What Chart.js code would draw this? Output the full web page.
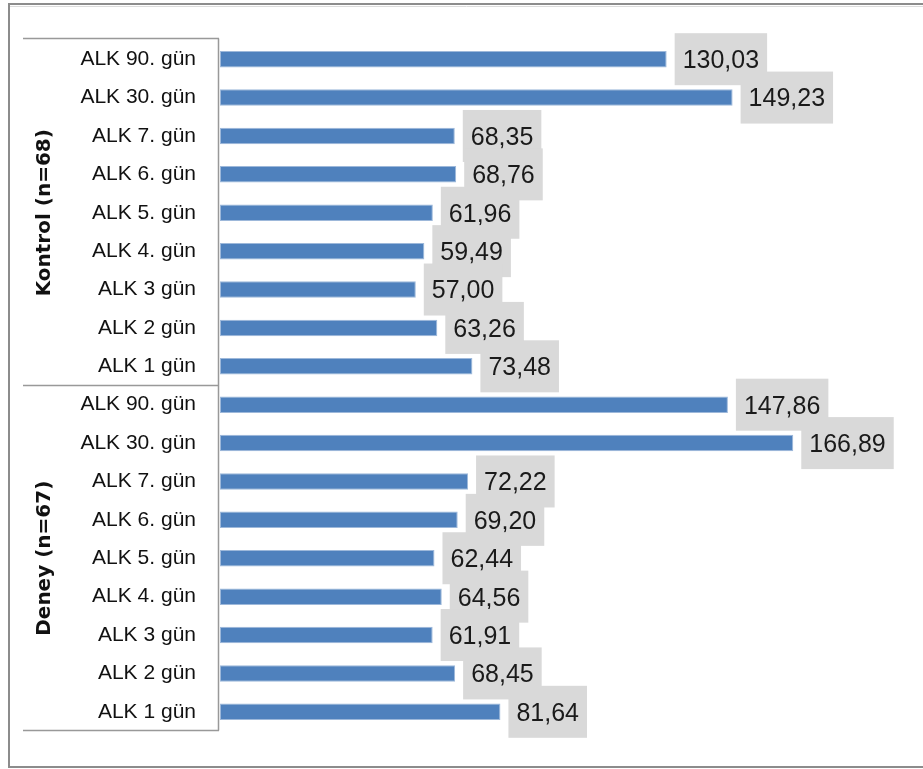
<!DOCTYPE html>
<html>
<head>
<meta charset="utf-8">
<script src="https://cdn.jsdelivr.net/npm/chart.js@4.4.1/dist/chart.umd.min.js"></script>
<style>
  body{margin:0;background:#fff;}
  #wrap{width:923px;height:769px;}
</style>
</head>
<body>
<div id="wrap"><canvas id="alk" width="923" height="769"></canvas></div>
<script>
// categories (top to bottom)
var days = ['ALK 90. gün','ALK 30. gün','ALK 7. gün','ALK 6. gün','ALK 5. gün','ALK 4. gün','ALK 3 gün','ALK 2 gün','ALK 1 gün'];
var groups = ['Kontrol (n=68)','Deney (n=67)'];
var kontrol = [130.03,149.23,68.35,68.76,61.96,59.49,57.00,63.26,73.48];
var deney = [147.86,166.89,72.22,69.20,62.44,64.56,61.91,68.45,81.64];

var labels = days.concat(days);
var values = kontrol.concat(deney);

// frame + group label box
var frame = {
  id:'frame',
  beforeDraw:function(chart){
    var c = chart.ctx, a = chart.chartArea;
    c.save();
    c.strokeStyle = '#8c8c8c';
    c.lineWidth = 2;
    c.strokeRect(9,4,940,763);
    c.strokeStyle = '#dcdcdc';
    c.lineWidth = 1;
    c.beginPath();
    c.moveTo(10,6.5); c.lineTo(923,6.5);
    c.stroke();

    var mid = (a.top + a.bottom)/2;
    c.strokeStyle = '#999';
    c.lineWidth = 1.5;
    c.beginPath();
    c.moveTo(23,a.top-1.5); c.lineTo(a.left-1,a.top-1.5);
    c.moveTo(a.left-1.5,a.top-1.5); c.lineTo(a.left-1.5,a.bottom-0.5);
    c.moveTo(23,mid); c.lineTo(a.left-1,mid);
    c.moveTo(23,a.bottom-0.5); c.lineTo(a.left-1,a.bottom-0.5);
    c.stroke();

    c.fillStyle = '#111';
    c.font = 'bold 20px "DejaVu Sans"';
    c.textAlign = 'center';
    c.textBaseline = 'middle';
    var centers = [(a.top+mid)/2, (mid+a.bottom)/2];
    for (var i = 0; i < groups.length; i++) {
      c.save();
      c.translate(45, centers[i]);
      c.rotate(-Math.PI/2);
      c.fillText(groups[i], 0, 0);
      c.restore();
    }
    c.restore();
  }
};

// value labels in grey boxes
var valueBoxes = {
  id:'valueBoxes',
  afterDatasetsDraw:function(chart){
    var c = chart.ctx;
    var meta = chart.getDatasetMeta(0);
    c.save();
    c.font = '25px "Liberation Sans", Arial';
    c.textBaseline = 'middle';
    c.textAlign = 'left';
    meta.data.forEach(function(bar, i){
      var txt = values[i].toFixed(2).replace('.', ',');
      var w = c.measureText(txt).width + 16;
      var x = bar.x + 8;
      c.fillStyle = '#d9d9d9';
      c.fillRect(x, bar.y - 26, w, 52);
      c.fillStyle = '#1a1a1a';
      c.fillText(txt, x + 8, bar.y + 2);
    });
    c.restore();
  }
};

var ctx = document.getElementById('alk');
var alkChart = new Chart(ctx,{
  type:'bar',
  data:{
    labels:labels,
    datasets:[{
      label:'ALK',
      data:values,
      backgroundColor:'#4f81bd',
      borderColor:'#9db8da',
      borderWidth:1,
      borderSkipped:false,
      categoryPercentage:1,
      barPercentage:0.43
    }]
  },
  options:{
    indexAxis:'y',
    responsive:false,
    animation:false,
    layout:{padding:{left:0,right:16,top:40,bottom:38}},
    plugins:{legend:{display:false},tooltip:{enabled:false}},
    scales:{
      x:{display:false,min:0,max:200},
      y:{
        grid:{display:false,drawTicks:false},
        border:{display:false},
        ticks:{
          color:'#111',
          padding:24,
          font:{family:'"Liberation Sans", Arial',size:21}
        },
        afterFit:function(scale){ scale.width = 220; }
      }
    }
  },
  plugins:[frame,valueBoxes]
});
</script>
</body>
</html>
